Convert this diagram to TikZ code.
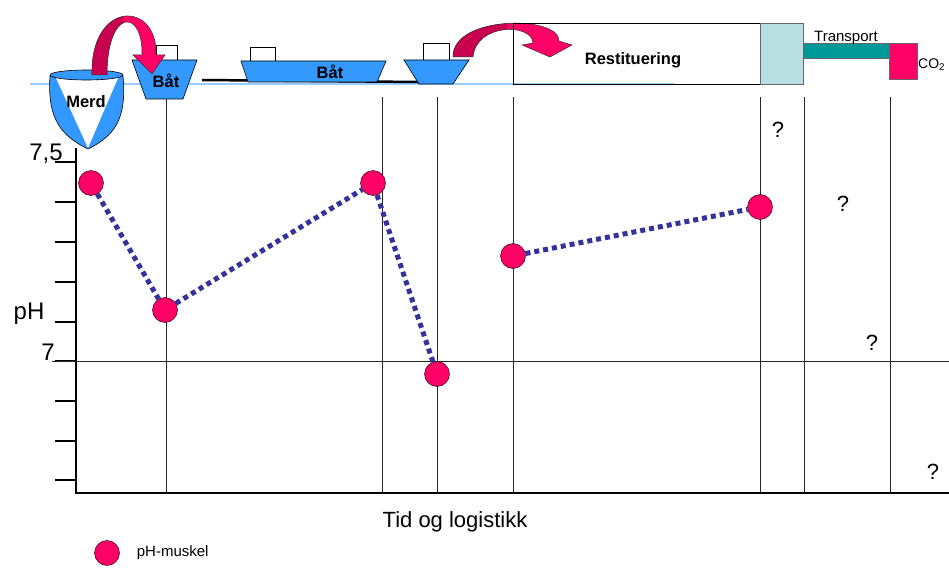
\documentclass[tikz,border=0pt]{standalone}
\usepackage{fontspec}
\setmainfont{Liberation Sans}
\usetikzlibrary{shapes,arrows,positioning,fit}
\definecolor{seablue}{HTML}{3399FF}
\definecolor{surface}{HTML}{99CCFF}
\definecolor{hotpink}{HTML}{FF0066}
\definecolor{darkpink}{HTML}{C8004F}
\definecolor{dotblue}{HTML}{333399}
\definecolor{paleblue}{HTML}{BADFE2}
\definecolor{truckgreen}{HTML}{009999}
\tikzstyle{phdot} = [draw,thin,circle,fill=hotpink,minimum size=25pt,inner sep=0pt]
\tikzstyle{link} = [-,dotblue,line width=5pt,dash pattern=on 5pt off 4pt]
\tikzstyle{stage} = [-,black!85,line width=0.9pt]
\tikzstyle{axis} = [-,line width=2.5pt]
\tikzstyle{tick} = [-,line width=2pt]
\tikzstyle{hull} = [draw,fill=seablue,line width=0.6pt]
\tikzstyle{cabin} = [draw,fill=white,line width=0.6pt]
\tikzstyle{hop} = [draw=black!80,line width=0.5pt]
\tikzstyle{boatlabel} = [font=\fontsize{16.5}{18}\selectfont\bfseries,inner sep=0pt]
\tikzstyle{axislabel} = [font=\fontsize{24}{28}\selectfont,inner sep=0pt]
\tikzstyle{query} = [font=\fontsize{22}{26}\selectfont,inner sep=0pt]
\tikzstyle{small} = [font=\fontsize{15}{17}\selectfont,inner sep=0pt]
\def \tl {21}

\begin{document}
\begin{tikzpicture}[x=1pt,y=-1pt]
      \useasboundingbox (0,0) rectangle (949,567);
      % surface of the sea
      \draw[surface,line width=1.2pt] (30,84) -- (675,84);
      % merd
      \draw[hull] (50,76) .. controls (47,120) and (62,136) .. (88,149)
            .. controls (114,136) and (127,120) .. (123,76) -- cycle;
      \fill[white] (56,78) -- (118,78) -- (88,148) -- cycle;
      \draw[hull] (86.5,75) ellipse [x radius=36.5,y radius=5];
      \node[boatlabel] (merd) at (86,102) {Merd};
      % boats
      \draw[line width=2.5pt] (202,80) -- (420,82);
      \draw[cabin] (156,45) rectangle (177,60);
      \draw[hull] (132,60) -- (197,60) -- (183,99) -- (146,99) -- cycle;
      \draw[cabin] (250,47) rectangle (275,61);
      \draw[hull] (241,61) -- (386,61) -- (377,82) -- (248,82) -- cycle;
      \draw[cabin] (423,43) rectangle (449,60);
      \draw[hull] (404,60) -- (469,60) -- (453,84) -- (419,84) -- cycle;
      % hop from merd to boat
      \fill[hotpink] (92,75) .. controls (90,0) and (158,0) .. (156,55) -- (165,55) -- (152,74)
            -- (133,55) -- (142,55) .. controls (143,8) and (107,8) .. (107,75) -- cycle;
      \begin{scope}
            \clip (80,0) rectangle (123,80);
            \fill[darkpink] (92,75) .. controls (90,0) and (158,0) .. (156,55) -- (165,55) -- (152,74)
                  -- (133,55) -- (142,55) .. controls (143,8) and (107,8) .. (107,75) -- cycle;
      \end{scope}
      \draw[hop] (92,75) .. controls (90,0) and (158,0) .. (156,55) -- (165,55) -- (152,74)
            -- (133,55) -- (142,55) .. controls (143,8) and (107,8) .. (107,75) -- cycle;
      % hop from boat to restituering
      \fill[hotpink] (453,57) .. controls (452,15) and (560,15) .. (559,41) -- (572,45) -- (550,57)
            -- (522,45) -- (533,43) .. controls (532,23) and (476,23) .. (473,57) -- cycle;
      \begin{scope}
            \clip (440,0) rectangle (507,70);
            \fill[darkpink] (453,57) .. controls (452,15) and (560,15) .. (559,41) -- (572,45) -- (550,57)
                  -- (522,45) -- (533,43) .. controls (532,23) and (476,23) .. (473,57) -- cycle;
      \end{scope}
      \draw[hop] (453,57) .. controls (452,15) and (560,15) .. (559,41) -- (572,45) -- (550,57)
            -- (522,45) -- (533,43) .. controls (532,23) and (476,23) .. (473,57) -- cycle;
      \node[boatlabel] (boat1) at (166,81) {Båt};
      \node[boatlabel] (boat2) at (330,72) {Båt};
      % restituering and transport
      \draw[line width=0.8pt] (513,23) rectangle (760,84);
      \node[boatlabel] (rest) at (633,60) {Restituering};
      \draw[fill=paleblue,draw=black!60,line width=0.8pt] (760,23) rectangle (803,84);
      \draw[fill=truckgreen,draw=black!60,line width=0.8pt] (803,43) rectangle (889,58);
      \draw[fill=hotpink,draw=black!60,line width=0.8pt] (889,43) rectangle (917,79);
      \node[small,anchor=base] (transport) at (846,42) {Transport};
      \node[font=\fontsize{14}{16}\selectfont,inner sep=0pt,anchor=west] (co2) at (918,65) {CO\textsubscript{2}};
      % stages
      \draw[stage] (166,99) -- (166,493);
      \foreach \x in {382,437,513,760,804,890}
            \draw[stage] (\x,97) -- (\x,493);
      % axes
      \coordinate (origin) at (76,493);
      \draw[axis] (76,148) -- (origin) -- (949,493);
      \foreach \y in {162,202,242,282,322,361,401,441,480}
            \draw[tick] (76-\tl,\y) -- (76,\y);
      \draw[stage] (52,361) -- (949,361);
      \node[axislabel] (top) at (46,154) {7,5};
      \node[axislabel] (ph) at (29,314) {pH};
      \node[axislabel] (seven) at (48,352) {7};
      \node[axislabel,font=\fontsize{22}{26}\selectfont] (time) at (455,522) {Tid og logistikk};
      % pH in muscle
      \node[phdot] (p1) at (91,183) {};
      \node[phdot] (p2) at (165,310) {};
      \node[phdot] (p3) at (373,183) {};
      \node[phdot] (p4) at (437,374) {};
      \node[phdot] (p5) at (513,256) {};
      \node[phdot] (p6) at (760,207) {};
      \draw[link] (p1) -- (p2);
      \draw[link] (p2) -- (p3);
      \draw[link] (p3) -- (p4);
      \draw[link] (p5) -- (p6);
      \node[query] (q1) at (778,130) {?};
      \node[query] (q2) at (843,204) {?};
      \node[query] (q3) at (872,343) {?};
      \node[query] (q4) at (933,472) {?};
      % key
      \node[phdot] (key) at (107,553) {};
      \node[small,anchor=west,right=17pt of key] (keytext) {pH-muskel};
    \end{tikzpicture}
\end{document}
